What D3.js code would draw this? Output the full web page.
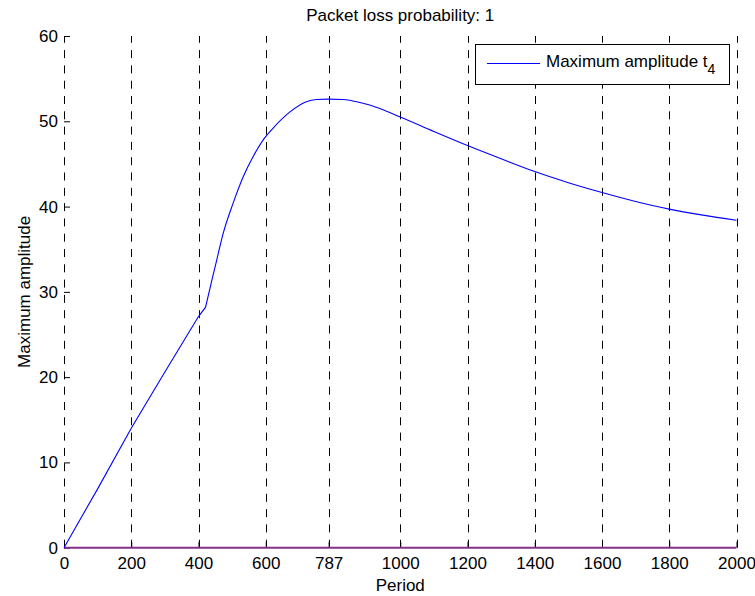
<!DOCTYPE html>
<html>
<head>
<meta charset="utf-8">
<script src="https://cdn.jsdelivr.net/npm/d3@7"></script>
<style>
  html, body { margin: 0; padding: 0; background: #fff; }
  svg { display: block; font-family: "Liberation Sans", Arial, Helvetica, sans-serif; }
</style>
</head>
<body>
<svg id="chart" width="755" height="596"></svg>
<script>
// Period samples and the maximum amplitude reached for each
const period = [0, 100, 200, 300, 400, 421, 440, 454, 473, 503, 533, 563, 594, 622, 672, 721, 751, 787, 830, 880, 909, 1000, 1100, 1200, 1300, 1400, 1500, 1600, 1700, 1800, 1900, 2000];
const amplitude = [0, 6.9, 14.0, 20.6, 27.1, 28.2, 31.4, 33.7, 36.8, 40.4, 43.5, 45.9, 47.9, 49.2, 51.1, 52.3, 52.55, 52.6, 52.55, 52.2, 51.9, 50.5, 48.8, 47.15, 45.6, 44.1, 42.8, 41.65, 40.6, 39.7, 39.0, 38.4];
// Period where the linear regime ends and the curve bends upward
const kinkPeriod = 421;

// Baseline series (all zeros) drawn along the x axis
const zeroPeriod = [0, 2000];
const zeroValue = [0, 0];

const xTicks = [0, 200, 400, 600, 787, 1000, 1200, 1400, 1600, 1800, 2000];
const yTicks = [0, 10, 20, 30, 40, 50, 60];

const titleText = "Packet loss probability: 1";
const xLabel = "Period";
const yLabel = "Maximum amplitude";
const legendLabel = "Maximum amplitude t";
const legendSub = "4";

const svg = d3.select("#chart");
const m = { left: 64, right: 736.5, top: 36, bottom: 547.7 };
const fs = 17;

const x = d3.scaleLinear().domain([0, 2000]).range([m.left, m.right]);
const y = d3.scaleLinear().domain([0, 60]).range([m.bottom, m.top]);

// Dashed vertical grid lines at every x tick, dashes starting from the bottom
svg.append("g").selectAll("line").data(xTicks).join("line")
  .attr("x1", d => Math.round(x(d)) + 0.5).attr("x2", d => Math.round(x(d)) + 0.5)
  .attr("y1", m.bottom).attr("y2", m.top)
  .attr("stroke", "#000").attr("stroke-width", 1)
  .attr("stroke-dasharray", "8,7.3");

// Axes with inward ticks
const xAxis = d3.axisBottom(x).tickValues(xTicks).tickSize(-6).tickPadding(9).tickFormat(d3.format("d"));
const yAxis = d3.axisLeft(y).tickValues(yTicks).tickSize(-6).tickPadding(6).tickFormat(d3.format("d"));

const gx = svg.append("g").attr("transform", `translate(0,${m.bottom})`).call(xAxis);
const gy = svg.append("g").attr("transform", `translate(${m.left},0)`).call(yAxis);
[gx, gy].forEach(g => {
  g.select(".domain").remove();
  g.selectAll(".tick line").attr("stroke", "#000").attr("stroke-width", 1);
  g.selectAll(".tick text").attr("fill", "#000").style("font-size", fs + "px")
    .style("font-family", "'Liberation Sans', Arial, sans-serif");
});
gx.selectAll(".tick text").attr("dy", "0.71em");

// Top-left tick mark at 60
svg.append("line")
  .attr("x1", m.left).attr("x2", m.left + 6)
  .attr("y1", y(60) + 0.5).attr("y2", y(60) + 0.5)
  .attr("stroke", "#000");

const line = d3.line().x(d => x(d[0])).y(d => y(d[1]));
const smooth = d3.line().x(d => x(d[0])).y(d => y(d[1])).curve(d3.curveMonotoneX);

// Zero baseline series
svg.append("path")
  .datum(d3.zip(zeroPeriod, zeroValue))
  .attr("d", line)
  .attr("fill", "none").attr("stroke", "#862e8a").attr("stroke-width", 2);

// Maximum amplitude curve: straight up to the bend, smooth after it
const pts = d3.zip(period, amplitude);
const ramp = pts.filter(d => d[0] <= kinkPeriod);
const rest = pts.filter(d => d[0] >= kinkPeriod);
svg.append("path")
  .attr("d", line(ramp) + smooth(rest).replace(/^M/, "L"))
  .attr("fill", "none").attr("stroke", "#0000ff").attr("stroke-width", 1.1);

// Title and axis labels
svg.append("text").attr("x", (m.left + m.right) / 2).attr("y", 21)
  .attr("text-anchor", "middle").style("font-size", fs + "px").text(titleText);
svg.append("text").attr("x", (m.left + m.right) / 2).attr("y", 591)
  .attr("text-anchor", "middle").style("font-size", fs + "px").text(xLabel);
svg.append("text")
  .attr("transform", `translate(24,${(m.top + m.bottom) / 2}) rotate(-90)`)
  .attr("text-anchor", "middle").attr("dy", "0.35em")
  .style("font-size", fs + "px").text(yLabel);

// Legend
const lg = svg.append("g");
lg.append("rect").attr("x", 475.5).attr("y", 44.5).attr("width", 254).attr("height", 40)
  .attr("fill", "#fff").attr("stroke", "#000").attr("stroke-width", 1);
lg.append("line").attr("x1", 487).attr("x2", 540).attr("y1", 63.5).attr("y2", 63.5)
  .attr("stroke", "#0000ff").attr("stroke-width", 1.1);
const lt = lg.append("text").attr("x", 546).attr("y", 67).style("font-size", fs + "px");
lt.append("tspan").text(legendLabel);
lt.append("tspan").attr("dy", 7).style("font-size", "14px").text(legendSub);
</script>
</body>
</html>
